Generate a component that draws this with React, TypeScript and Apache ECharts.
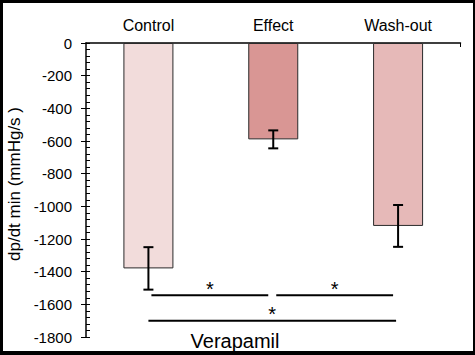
import React, { useEffect, useRef } from 'react';
import * as echarts from 'echarts';

const categories = ['Control', 'Effect', 'Wash-out'];
const means = [-1380, -590, -1120];
const errors = [130, 55, 128];
const barColors = ['#F2DCDB', '#D99694', '#E6B9B8'];
const yMin = -1800;
const yMax = 0;
const yStep = 200;
// [fromCategoryIndex, toCategoryIndex, level]
const brackets = [
  [0, 1, -1545],
  [1, 2, -1545],
  [0, 2, -1700],
];
const sigMarks = ['*', '*', '*'];
const groupLabel = 'Verapamil';
const yTitle = 'dp/dt min (mmHg/s )';

const FONT = "'Liberation Sans', Arial, sans-serif";

export default function App() {
  const ref = useRef<HTMLDivElement>(null);
  useEffect(() => {
    if (!ref.current) return;
    const chart = echarts.init(ref.current, undefined, { renderer: 'svg' });
    const option: any = {
      animation: false,
      backgroundColor: '#ffffff',
      textStyle: { fontFamily: FONT },
      grid: { left: 86, top: 43, width: 374.5, height: 294, containLabel: false, outerBoundsMode: 'none' },
      xAxis: {
        type: 'category',
        data: categories,
        position: 'top',
        axisLine: { onZero: false, lineStyle: { color: '#000', width: 1.5 } },
        axisTick: { alignWithLabel: true, length: 4, lineStyle: { color: '#000', width: 1 } },
        axisLabel: { color: '#000', fontSize: 16, margin: 10, fontFamily: FONT },
        splitLine: { show: false },
      },
      yAxis: [
        {
          type: 'value',
          position: 'left',
          min: yMin,
          max: yMax,
          interval: yStep,
          name: yTitle,
          nameLocation: 'middle',
          nameGap: 62,
          nameTextStyle: { color: '#000', fontSize: 17, fontFamily: FONT, padding: [0, 0, 0, 12] },
          axisLine: { show: true, onZero: false, lineStyle: { color: '#000', width: 1.5 } },
          axisTick: { show: true, length: 5, lineStyle: { color: '#000', width: 1 } },
          axisLabel: { color: '#000', fontSize: 15, margin: 14, fontFamily: FONT, formatter: (v: number) => String(v) },
          splitLine: { show: false },
        },
        {
          type: 'value',
          position: 'left',
          min: yMin,
          max: yMax,
          interval: yStep,
          axisLine: { show: false, onZero: false },
          axisTick: { show: true, inside: true, length: 4, lineStyle: { color: '#000', width: 1 } },
          minorTick: { show: true, splitNumber: 5, length: 4, lineStyle: { color: '#000', width: 1 } },
          axisLabel: { show: false },
          splitLine: { show: false },
          minorSplitLine: { show: false },
        },
      ],
      series: [
        {
          type: 'bar',
          yAxisIndex: 0,
          barWidth: 50,
          data: means.map((v, i) => ({
            value: v,
            itemStyle: { color: barColors[i], borderColor: '#2a2a2a', borderWidth: 1 },
          })),
        },
        {
          type: 'custom',
          yAxisIndex: 0,
          encode: { x: 0, y: 1 },
          data: means.map((v, i) => [i, v, errors[i]]),
          renderItem: (params: any, api: any) => {
            const idx = api.value(0);
            const m = api.value(1);
            const e = api.value(2);
            const top = api.coord([idx, m + e]);
            const bot = api.coord([idx, m - e]);
            const hw = 5;
            const style = { stroke: '#000', lineWidth: 2 };
            return {
              type: 'group',
              children: [
                { type: 'line', shape: { x1: top[0], y1: top[1], x2: bot[0], y2: bot[1] }, style },
                { type: 'line', shape: { x1: top[0] - hw, y1: top[1], x2: top[0] + hw, y2: top[1] }, style },
                { type: 'line', shape: { x1: bot[0] - hw, y1: bot[1], x2: bot[0] + hw, y2: bot[1] }, style },
              ],
            };
          },
          z: 5,
        },
        {
          type: 'custom',
          yAxisIndex: 0,
          encode: { x: [0, 1], y: 2 },
          data: brackets,
          renderItem: (params: any, api: any) => {
            const a = api.value(0);
            const b = api.value(1);
            const lv = api.value(2);
            const long = b - a > 1;
            const p1 = api.coord([a, lv]);
            const p2 = api.coord([b, lv]);
            const x1 = p1[0] + (long ? 0 : 3);
            const x2 = p2[0] - (long ? 2 : 5);
            const mid = (x1 + x2) / 2;
            const children: any[] = [
              { type: 'line', shape: { x1, y1: p1[1], x2, y2: p1[1] }, style: { stroke: '#000', lineWidth: 2 } },
              {
                type: 'text',
                x: mid,
                y: p1[1] - 6.5,
                style: {
                  text: sigMarks[params.dataIndex],
                  fill: '#000',
                  font: `20px ${FONT}`,
                  align: 'center',
                  verticalAlign: 'middle',
                },
              },
            ];
            return { type: 'group', children };
          },
          z: 5,
        },
      ],
      graphic: [
        {
          type: 'text',
          x: 235,
          y: 341,
          style: { text: groupLabel, fill: '#000', font: `20px ${FONT}`, align: 'center', verticalAlign: 'middle' },
        },
        { type: 'line', shape: { x1: 460.5, y1: 43, x2: 460.5, y2: 47 }, style: { stroke: '#000', lineWidth: 1 } },
        { type: 'rect', shape: { x: 0, y: 0, width: 475, height: 3 }, style: { fill: '#000' }, z: 100 },
        { type: 'rect', shape: { x: 0, y: 0, width: 3, height: 355 }, style: { fill: '#000' }, z: 100 },
        { type: 'rect', shape: { x: 473, y: 0, width: 2, height: 355 }, style: { fill: '#000' }, z: 100 },
        { type: 'rect', shape: { x: 0, y: 351, width: 475, height: 4 }, style: { fill: '#000' }, z: 100 },
      ],
    };
    chart.setOption(option);
    return () => chart.dispose();
  }, []);
  return (
    <div
      ref={ref}
      style={{ position: 'fixed', left: 0, top: 0, width: 475, height: 355, background: '#fff' }}
    />
  );
}
